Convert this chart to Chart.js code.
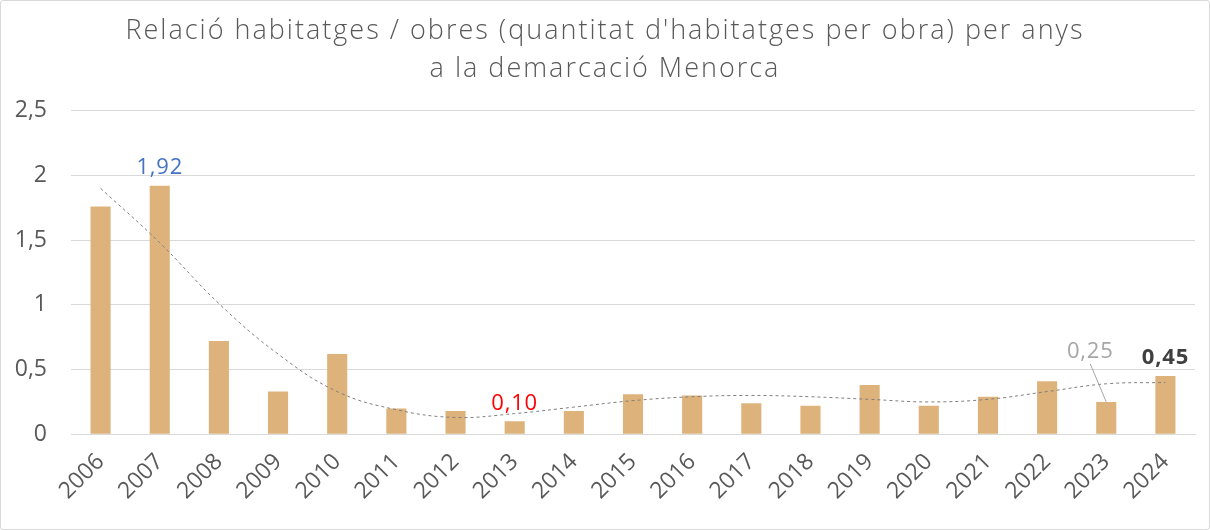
<!DOCTYPE html>
<html>
<head>
<meta charset="utf-8">
<script src="https://cdn.jsdelivr.net/npm/chart.js@4"></script>
<style>
  html, body { margin: 0; padding: 0; background: #fff; }
  #wrap { width: 1208px; height: 528px; border: 1px solid #d9d9d9; border-radius: 3px; position: relative; }
</style>
</head>
<body>
<div id="wrap"><canvas id="chart_bar"></canvas></div>
<script>
// data
const years = ['2006', '2007', '2008', '2009', '2010', '2011', '2012', '2013', '2014', '2015',
               '2016', '2017', '2018', '2019', '2020', '2021', '2022', '2023', '2024'];
const ratio = [1.76, 1.92, 0.72, 0.33, 0.62, 0.20, 0.18, 0.10, 0.18, 0.31,
               0.30, 0.24, 0.22, 0.38, 0.22, 0.29, 0.41, 0.25, 0.45];
// polynomial trend line as drawn in the original
const trend = [1.90, 1.48, 1.01, 0.62, 0.33, 0.19, 0.13, 0.16, 0.21, 0.26,
               0.29, 0.30, 0.29, 0.27, 0.25, 0.27, 0.33, 0.39, 0.40];
const yTicks = ['0', '0,5', '1', '1,5', '2', '2,5'];

const fmt = v => v.toFixed(2).replace('.', ',');

// wider tracking for the title only
const titleSpacing = {
  id: 'titleSpacing',
  afterInit(chart) {
    const block = chart.titleBlock;
    if (!block) return;
    const orig = block.draw;
    block.draw = function () {
      chart.ctx.letterSpacing = '2px';
      orig.apply(this, arguments);
      chart.ctx.letterSpacing = '0px';
    };
  }
};

// value labels on a few bars
const valueLabels = {
  id: 'valueLabels',
  afterDatasetsDraw(chart) {
    const ctx = chart.ctx;
    const meta = chart.getDatasetMeta(0);
    const marks = [
      { year: '2007', color: '#4472c4', weight: '400' },
      { year: '2013', color: '#ff0000', weight: '400' },
      { year: '2023', color: '#a6a6a6', weight: '400', dx: -16, dy: -32, leader: true },
      { year: '2024', color: '#404040', weight: '700' }
    ];
    ctx.save();
    ctx.textAlign = 'center';
    ctx.textBaseline = 'bottom';
    ctx.letterSpacing = '0.8px';
    marks.forEach(m => {
      const i = years.indexOf(m.year);
      const bar = meta.data[i];
      const x = bar.x + (m.dx || 0);
      const y = bar.y - 7 + (m.dy || 0);
      ctx.font = m.weight + ' 22px "Open Sans"';
      ctx.fillStyle = m.color;
      ctx.fillText(fmt(ratio[i]), x, y);
      if (m.leader) {
        ctx.strokeStyle = '#a6a6a6';
        ctx.lineWidth = 1;
        ctx.beginPath();
        ctx.moveTo(x, y + 1);
        ctx.lineTo(bar.x, bar.y);
        ctx.stroke();
      }
    });
    ctx.restore();
  }
};

const ctx = document.getElementById('chart_bar');

new Chart(ctx, {
  type: 'bar',
  data: {
    labels: years,
    datasets: [{
      type: 'bar',
      data: ratio,
      backgroundColor: '#deb37b',
      barPercentage: 0.34,
      categoryPercentage: 1.0,
      order: 2
    }, {
      type: 'line',
      data: trend,
      borderColor: '#7f7f7f',
      borderWidth: 1,
      borderDash: [3, 3],
      pointRadius: 0,
      tension: 0.4,
      fill: false,
      order: 1
    }]
  },
  options: {
    responsive: true,
    maintainAspectRatio: false,
    animation: false,
    layout: { padding: { left: 14, right: 14, top: 2, bottom: 10 } },
    plugins: {
      legend: { display: false },
      tooltip: { enabled: false },
      title: {
        display: true,
        text: ["Relació habitatges / obres (quantitat d'habitatges per obra) per anys", 'a la demarcació Menorca'],
        color: '#595959',
        font: { family: 'Open Sans', size: 27, weight: '300', lineHeight: 1.42 },
        padding: { top: 9, bottom: 22 }
      }
    },
    scales: {
      x: {
        grid: { display: false, drawTicks: false },
        border: { color: '#d9d9d9' },
        ticks: {
          color: '#595959',
          font: { family: 'Open Sans', size: 23 },
          maxRotation: 45,
          minRotation: 45,
          padding: 14
        }
      },
      y: {
        min: 0,
        max: 2.5,
        grid: { color: '#d9d9d9', drawTicks: false },
        border: { display: false },
        ticks: {
          stepSize: 0.5,
          color: '#595959',
          font: { family: 'Open Sans', size: 23 },
          padding: 24,
          callback: (value, index) => yTicks[index]
        },
        afterFit(scale) {
          scale.width = 56;
        }
      }
    }
  },
  plugins: [titleSpacing, valueLabels]
});
</script>
</body>
</html>
